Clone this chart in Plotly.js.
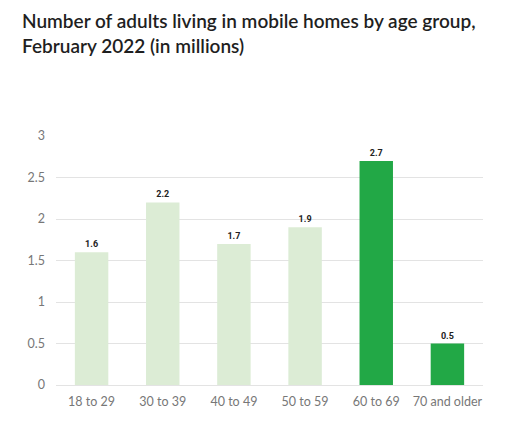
<!DOCTYPE html>
<html>
<head>
<meta charset="utf-8">
<script src="https://cdn.plot.ly/plotly-3.0.1.min.js"></script>
<style>
  html, body { margin: 0; padding: 0; background: #fff; }
  #chart { width: 529px; height: 421px; }
</style>
</head>
<body>
<div id="chart"></div>
<script>
// age groups and values (millions)
var ageGroups = ["18 to 29", "30 to 39", "40 to 49", "50 to 59", "60 to 69", "70 and older"];
var adultsMillions = [1.6, 2.2, 1.7, 1.9, 2.7, 0.5];
var barColors = ["#dcecd5", "#dcecd5", "#dcecd5", "#dcecd5", "#22a846", "#22a846"];
var yTicks = [0, 0.5, 1, 1.5, 2, 2.5, 3];

var trace = {
  type: "bar",
  x: ageGroups,
  y: adultsMillions,
  marker: { color: barColors },
  text: adultsMillions.map(function(v){ return v.toFixed(1); }),
  textposition: "outside",
  cliponaxis: false,
  textfont: { family: "Roboto, Arial, sans-serif", size: 9, color: "#222", weight: 700 },
  hoverinfo: "x+y"
};

var layout = {
  width: 529, height: 421,
  margin: { l: 56, r: 46, t: 136, b: 36, pad: 0 },
  paper_bgcolor: "#fff", plot_bgcolor: "#fff",
  showlegend: false,
  bargap: 0.53,
  title: {
    text: "Number of adults living in mobile homes by age group,<br>February 2022 (in millions)",
    font: { family: "Lato, 'Open Sans', sans-serif", size: 19, color: "#1f1f1f", weight: 600 },
    xref: "container", x: 22 / 529, xanchor: "left",
    yref: "container", y: 1 - 28 / 421, yanchor: "top"
  },
  xaxis: {
    type: "category",
    showgrid: false, zeroline: false, showline: false,
    ticks: "", ticklen: 0,
    ticklabelstandoff: 7,
    tickfont: { family: "Lato, 'Open Sans', sans-serif", size: 12.5, color: "#777" }
  },
  yaxis: {
    range: [0, 3],
    tickvals: yTicks,
    ticktext: yTicks.map(String),
    showgrid: true, gridcolor: "#e3e3e3", gridwidth: 1,
    zeroline: true, zerolinecolor: "#e3e3e3", zerolinewidth: 1,
    showline: false, ticks: "",
    ticklabelstandoff: 10,
    tickfont: { family: "Lato, 'Open Sans', sans-serif", size: 12.5, color: "#777" }
  }
};

Plotly.newPlot("chart", [trace], layout, { displayModeBar: false, staticPlot: true });
</script>
</body>
</html>
